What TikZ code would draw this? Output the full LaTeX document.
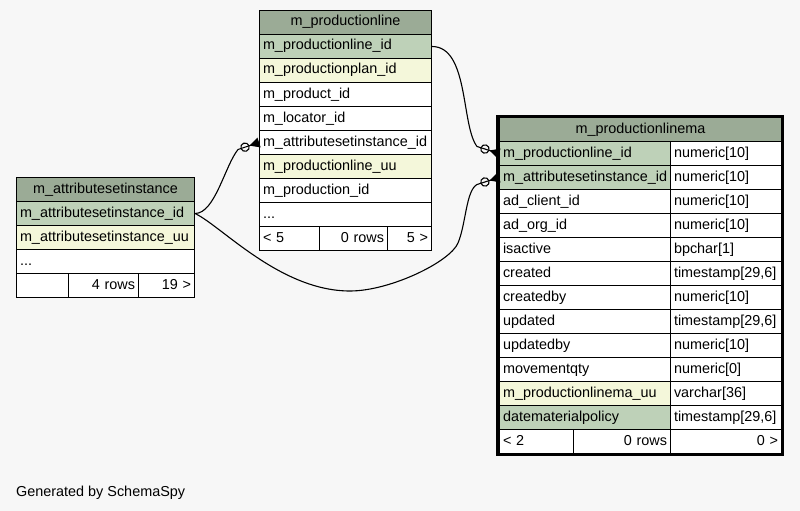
\documentclass[tikz,border=0pt]{standalone}
\usepackage{fontspec}
\setmainfont{Liberation Sans}
\usepackage{tikz}
\usetikzlibrary{calc,arrows.meta}
\definecolor{bg}{HTML}{F7F7F7}
\definecolor{hdr}{HTML}{9BAB96}
\definecolor{pk}{HTML}{BED1B8}
\definecolor{idx}{HTML}{F4F7DA}
\definecolor{plain}{HTML}{FFFFFF}
\newcommand{\rowdots}{...}
\tikzset{
  txt/.style={font=\fontsize{14.4}{16}\selectfont},
  cellbox/.style={txt, draw=black, fill=plain, line width=1pt, anchor=north west,
    minimum height=24pt, inner xsep=3.5pt, inner ysep=0pt, text height=10pt, text depth=3pt},
  hdrcell/.style={cellbox, fill=hdr, text width=#1, align=center},
  cell/.style={cellbox, text width=#1, align=left},
  rcell/.style={cellbox, text width=#1, align=right},
  fk/.style={line width=1.1pt, draw=black,
    -{Circle[open,length=9.5pt,width=9.5pt] Triangle[reversed,length=10pt,width=10pt]}}
}

\begin{document}
\begin{tikzpicture}[x=1pt,y=-1pt]
    \useasboundingbox[fill=bg] (0,0) rectangle (800,511);

    % m_productionline
    \node[hdrcell=165pt] (pl) at (259,10) {m\_productionline};
    \foreach \fld/\shade [count=\i] in {m\_productionline\_id/pk, m\_productionplan\_id/idx,
        m\_product\_id/plain, m\_locator\_id/plain, m\_attributesetinstance\_id/plain,
        m\_productionline\_uu/idx, m\_production\_id/plain, \rowdots/plain}
      \node[cell=165pt, fill=\shade] (pl\i) at (259,{10+24*\i}) {\fld};
    \node[cell=53pt] (plf1) at (259,226) {< 5};
    \node[rcell=61pt] (plf2) at (319,226) {0 rows};
    \node[rcell=37pt] (plf3) at (387,226) {5 >};

    % m_attributesetinstance
    \node[hdrcell=171pt] (asi) at (16,177) {m\_attributesetinstance};
    \foreach \fld/\shade [count=\i] in {m\_attributesetinstance\_id/pk,
        m\_attributesetinstance\_uu/idx, \rowdots/plain}
      \node[cell=171pt, fill=\shade] (asi\i) at (16,{177+24*\i}) {\fld};
    \node[cell=45pt] (asif1) at (16,273) {};
    \node[rcell=63pt] (asif2) at (68,273) {4 rows};
    \node[rcell=49pt] (asif3) at (138,273) {19 >};

    % m_productionlinema
    \node[hdrcell=275pt] (lma) at (499,117) {m\_productionlinema};
    \foreach \fld/\typ/\shade [count=\i] in {m\_productionline\_id/numeric[10]/pk,
        m\_attributesetinstance\_id/numeric[10]/pk, ad\_client\_id/numeric[10]/plain,
        ad\_org\_id/numeric[10]/plain, isactive/bpchar[1]/plain,
        created/{timestamp[29,6]}/plain, createdby/numeric[10]/plain,
        updated/{timestamp[29,6]}/plain, updatedby/numeric[10]/plain,
        movementqty/numeric[0]/plain, m\_productionlinema\_uu/varchar[36]/idx,
        datematerialpolicy/{timestamp[29,6]}/pk}
    {
      \node[cell=164pt, fill=\shade] (lma\i) at (499,{117+24*\i}) {\fld};
      \node[cell=104pt] (lmat\i) at (670,{117+24*\i}) {\typ};
    }
    \node[cell=67pt] (lmaf1) at (499,429) {< 2};
    \node[rcell=90pt] (lmaf2) at (573,429) {0 rows};
    \node[rcell=104pt] (lmaf3) at (670,429) {0 >};
    \draw[line width=3pt] (497.5,116.5) rectangle (782.5,454.5);

    % foreign keys
    \coordinate (kn1) at ($(lma1.west)+(-22,-7)$);
    \coordinate (kn2) at ($(pl5.west)+(-21,7)$);
    \coordinate (kn3) at ($(lma2.west)+(-22,7)$);
    \coordinate (dip) at (350,291);
    \coordinate (rise) at (458,243);
    \draw[fk] (pl1.east) .. controls +(37,0) and +(-16,-21) .. (kn1) -- (lma1.west);
    \draw[fk] (asi1.east) .. controls +(20,0) and +(-13,16) .. (kn2) -- (pl5.west);
    \draw[fk] (asi1.east) .. controls +(26,12) and +(-70,0) .. (dip)
        .. controls +(40,0) and +(-8,19) .. (rise)
        .. controls +(8,-19) and +(-11,6) .. (kn3) -- (lma2.west);

    \node[txt, anchor=west, inner sep=0pt, text height=10pt, text depth=3pt] (credit) at (16,493) {Generated by SchemaSpy};
\end{tikzpicture}
\end{document}
